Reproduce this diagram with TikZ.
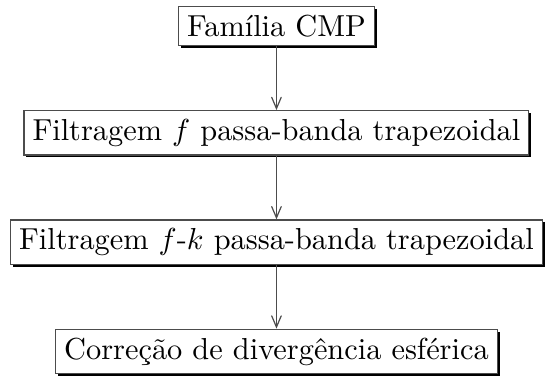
\documentclass[tikz,border=0pt]{standalone}
\usepackage{amsmath}
\usepackage{tikz}
\usetikzlibrary{
    arrows,
    positioning,
    shadows,
    calc
}

\begin{document}
\begin{tikzpicture}[->,>=angle 45,node distance=21pt,thin]
    \tikzstyle{etapa}=[draw=black!70, rectangle, fill=white, inner sep=2.8pt,
        drop shadow={shadow xshift=0.8pt, shadow yshift=-0.8pt, fill=black, opacity=1}]

    \node[etapa] (cmp) {Família CMP};
    \node[etapa, below=of cmp] (ff) {Filtragem $f$ passa-banda trapezoidal};
    \node[etapa, below=of ff] (fk) {Filtragem $f$-$k$ passa-banda trapezoidal};
    \node[etapa, below=of fk] (div) {Correção de divergência esférica};
    \path[draw=black!70] (cmp) edge (ff);
    \path[draw=black!70] (ff) edge (fk);
    \path[draw=black!70] (fk) edge (div);

    \path let \p1=(fk.west), \p2=(cmp.north), \p3=(fk.east), \p4=(div.south) in
        [use as bounding box] (\x1-3.3pt,\y2+2pt) rectangle (\x3+2pt,\y4-2pt);
\end{tikzpicture}
\end{document}
